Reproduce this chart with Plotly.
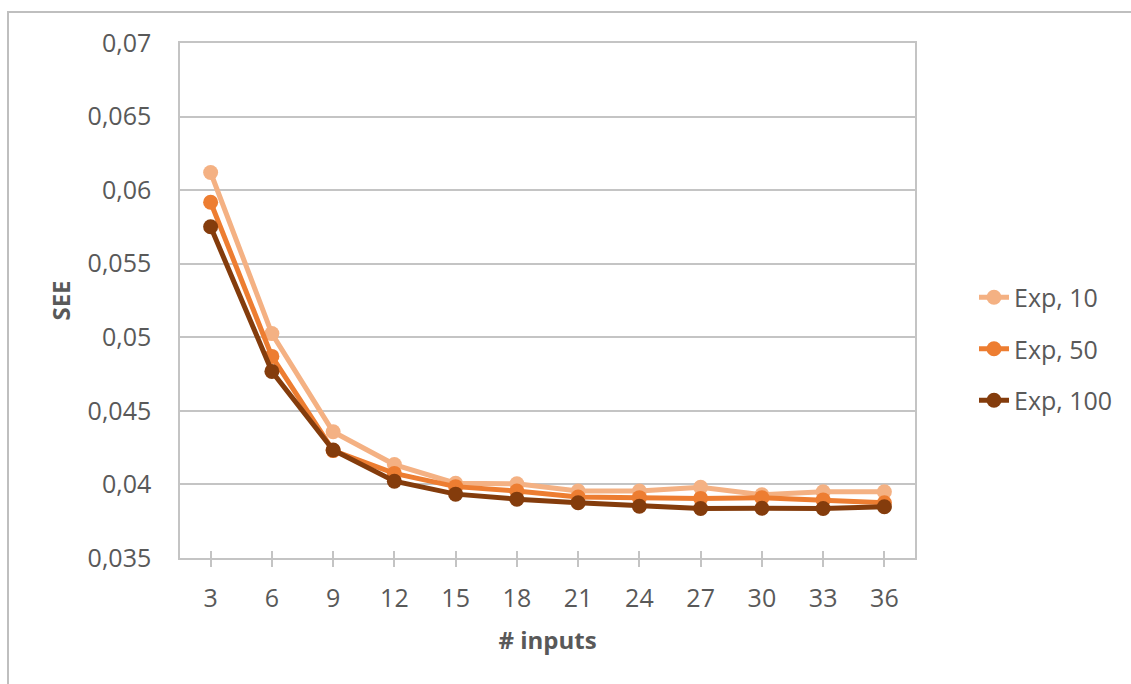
import plotly.graph_objects as go

inputs = [3, 6, 9, 12, 15, 18, 21, 24, 27, 30, 33, 36]
exp_10 = [0.0612, 0.05025, 0.04358, 0.04135, 0.04008, 0.04005, 0.03955, 0.03955, 0.0398, 0.0393, 0.0395, 0.0395]
exp_50 = [0.05918, 0.0487, 0.0423, 0.04075, 0.03985, 0.03955, 0.03915, 0.0391, 0.03905, 0.0391, 0.03895, 0.03875]
exp_100 = [0.05751, 0.04768, 0.04234, 0.04022, 0.03934, 0.03900, 0.03875, 0.03852, 0.03836, 0.03838, 0.03836, 0.03848]

series_names = ["Exp, 10", "Exp, 50", "Exp, 100"]
series_colors = ["#F4B183", "#ED7D31", "#843C0C"]

y_tick_vals = [0.035, 0.04, 0.045, 0.05, 0.055, 0.06, 0.065, 0.07]
y_tick_text = ["0,035", "0,04", "0,045", "0,05", "0,055", "0,06", "0,065", "0,07"]

x_labels = [str(v) for v in inputs]

W, H = 1131, 684
L, R, T, B = 180, 216, 43, 126
pw, ph = W - L - R, H - T - B

TXT = "#595959"
GRID = "#C4C4C4"
FONT = "Open Sans"
x_range = [-0.5, len(x_labels) - 0.5]

fig = go.Figure()
for name, vals, col in zip(series_names, [exp_10, exp_50, exp_100], series_colors):
    fig.add_trace(go.Scatter(
        x=x_labels, y=vals, name=name, mode="lines+markers",
        line=dict(color=col, width=5),
        marker=dict(color=col, size=15),
        legendgroup=name,
    ))

# invisible trace on overlay axis for inside ticks
fig.add_trace(go.Scatter(x=x_labels, y=exp_100, xaxis="x2", mode="lines",
                         line=dict(width=0), showlegend=False, hoverinfo="skip", opacity=0))

fig.update_layout(
    width=W, height=H,
    margin=dict(l=L, r=R, t=T, b=B),
    paper_bgcolor="white", plot_bgcolor="white",
    font=dict(family=FONT, color=TXT, size=25),
    xaxis=dict(
        type="category", range=x_range, autorange=False,
        showgrid=False, showline=True, linecolor=GRID, linewidth=1.5,
        mirror=True, ticks="outside", ticklen=7, tickcolor=GRID, tickwidth=1.5,
        tickfont=dict(size=25, color=TXT), ticklabelstandoff=10,
        title=dict(text="<b># inputs</b>", font=dict(size=24, color=TXT), standoff=19),
    ),
    xaxis2=dict(
        type="category", overlaying="x", range=x_range, autorange=False, side="bottom",
        showticklabels=False, ticks="inside", ticklen=7, tickcolor=GRID, tickwidth=1.5,
        showgrid=False, showline=False,
    ),
    yaxis=dict(
        range=[0.035, 0.07], tickvals=y_tick_vals, ticktext=y_tick_text,
        showgrid=True, gridcolor=GRID, gridwidth=1.5,
        showline=True, linecolor=GRID, linewidth=1.5, mirror=True,
        ticks="", ticklen=0, tickfont=dict(size=25, color=TXT), ticklabelstandoff=22,
        title=dict(text="<b>SEE</b>", font=dict(size=24, color=TXT), standoff=10),
        zeroline=False,
    ),
    legend=dict(
        x=(974 - L) / pw, xanchor="left", y=(H - B - 349) / ph, yanchor="middle",
        font=dict(size=25, color=TXT), traceorder="grouped", tracegroupgap=16,
        bgcolor="rgba(0,0,0,0)",
    ),
    showlegend=True,
)

# outer chart border
fig.add_shape(type="rect", xref="paper", yref="paper",
              x0=(8 - L) / pw, x1=(1140 - L) / pw,
              y0=(H - B - 700) / ph, y1=1 + (T - 12) / ph,
              line=dict(color="#BFBFBF", width=2), fillcolor="rgba(0,0,0,0)", layer="below")

fig.write_html("out.html")
